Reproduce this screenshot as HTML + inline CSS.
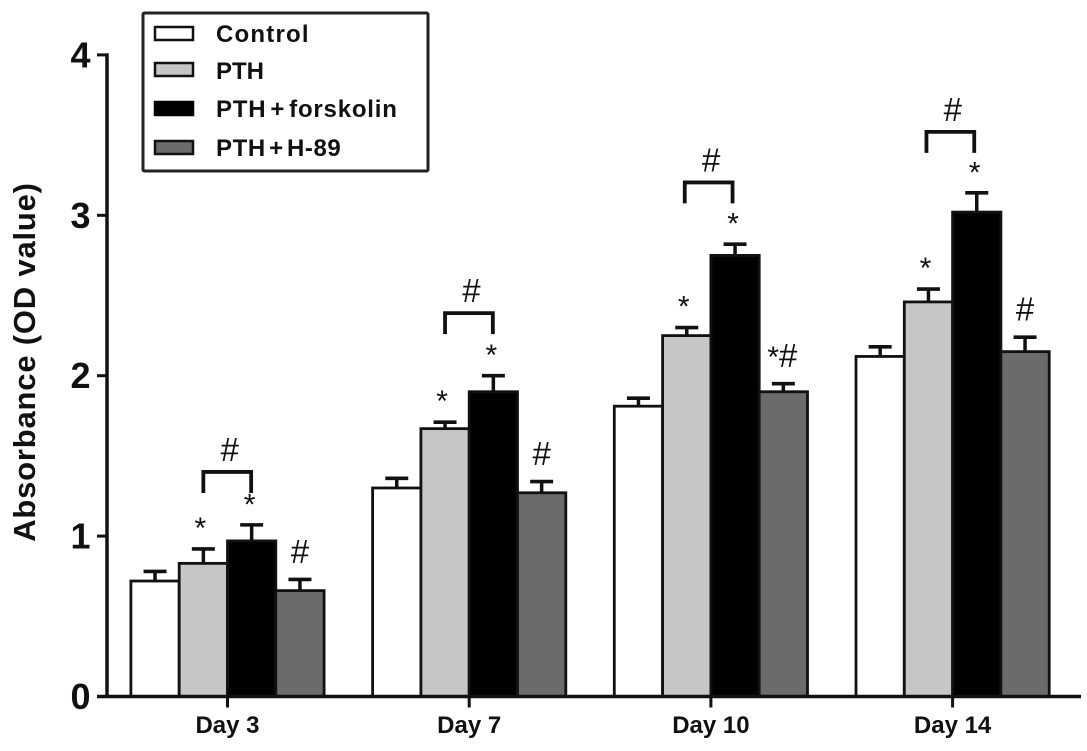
<!DOCTYPE html>
<html lang="en">
<head>
<meta charset="utf-8">
<title>Absorbance by day</title>
<style>
html,body{margin:0;padding:0;background:#fff;width:1087px;height:751px;overflow:hidden}
svg{display:block;font-family:"Liberation Sans",Arial,sans-serif}
</style>
</head>
<body>
<svg id="chart" width="1087" height="751" viewBox="0 0 1087 751" xmlns="http://www.w3.org/2000/svg">
  <g id="plot"></g>
  <g>
    <rect x="143" y="13" width="285" height="158" rx="1.5" fill="#fff" stroke="#222" stroke-width="3"/>
    <rect x="155" y="27" width="38" height="13" fill="#fff" stroke="#111" stroke-width="2.5"/>
    <text x="216" y="42" font-size="24" font-weight="700" letter-spacing="1.2" fill="#111">Control</text>
    <rect x="155" y="63" width="38" height="13" fill="#c6c6c6" stroke="#111" stroke-width="2.5"/>
    <text x="216" y="79" font-size="24" font-weight="700" fill="#111">PTH</text>
    <rect x="155" y="102" width="38" height="13" fill="#000" stroke="#000" stroke-width="2.5"/>
    <text x="216" y="117" font-size="24" font-weight="700" letter-spacing="0.8" word-spacing="-3.5" fill="#111">PTH + forskolin</text>
    <rect x="155" y="141" width="38" height="13" fill="#6b6b6b" stroke="#111" stroke-width="2.5"/>
    <text x="216" y="156" font-size="24" font-weight="700" letter-spacing="0.6" word-spacing="-4" fill="#111">PTH + H-89</text>
  </g>
  <text transform="translate(35,362) rotate(-90)" text-anchor="middle" font-size="31" font-weight="700" letter-spacing="0.8" fill="#111">Absorbance (OD value)</text>
</svg>
<script>
const categories = ["Day 3", "Day 7", "Day 10", "Day 14"];
const seriesNames = ["control", "pth", "forskolin", "h89"];
const control = [0.72, 1.30, 1.81, 2.12];
const pth = [0.83, 1.67, 2.25, 2.46];
const forskolin = [0.97, 1.90, 2.75, 3.02];
const h89 = [0.66, 1.27, 1.90, 2.15];
const controlErr = [0.06, 0.06, 0.05, 0.06];
const pthErr = [0.09, 0.04, 0.05, 0.08];
const forskolinErr = [0.10, 0.10, 0.07, 0.12];
const h89Err = [0.07, 0.07, 0.05, 0.09];
const yTicks = [0, 1, 2, 3, 4];
const bracketLevels = [1.40, 2.39, 3.205, 3.52];
const pthMarks = ["*", "*", "*", "*"];
const forskolinMarks = ["*", "*", "*", "*"];
const h89Marks = ["#", "#", "*#", "#"];

const NS = "http://www.w3.org/2000/svg";
const plot = document.getElementById("plot");
const values = [control, pth, forskolin, h89];
const errors = [controlErr, pthErr, forskolinErr, h89Err];
const fills = ["#ffffff", "#c6c6c6", "#000000", "#6b6b6b"];

const Y0 = 696.5, YUNIT = 160.4;
const GROUP0 = 227.5, GROUPSTEP = 241.7, BARW = 48.3;
const ASTERISK_SIZE = 30, HASH_SIZE = 33;
function yScale(v) { return Y0 - v * YUNIT; }
function groupX(i) { return GROUP0 + i * GROUPSTEP; }
function barLeft(i, s) { return groupX(i) + (s - 2) * BARW; }
function barMid(i, s) { return barLeft(i, s) + BARW / 2; }

function add(tag, attrs) {
  const el = document.createElementNS(NS, tag);
  for (const k in attrs) el.setAttribute(k, attrs[k]);
  plot.appendChild(el);
  return el;
}
function line(x1, y1, x2, y2, w, color) {
  return add("line", { x1: x1, y1: y1, x2: x2, y2: y2, stroke: color || "#111", "stroke-width": w });
}
function markText(str, x, y) {
  const el = add("text", { x: x, y: y, "text-anchor": "middle", fill: "#111" });
  str.split("").forEach(function (ch) {
    const span = document.createElementNS(NS, "tspan");
    span.setAttribute("font-size", ch === "#" ? HASH_SIZE : ASTERISK_SIZE);
    span.textContent = ch;
    el.appendChild(span);
  });
  return el;
}

categories.forEach(function (cat, i) {
  values.forEach(function (series, s) {
    const top = yScale(series[i]);
    const errTop = yScale(series[i] + errors[s][i]);
    const mid = barMid(i, s);
    const stem = line(mid, errTop, mid, top, 3.5);
    
    
    const cap = line(mid - 11.5, errTop, mid + 11.5, errTop, 3.6);
    
    
    const bar = add("rect", {
      x: barLeft(i, s), y: top, width: BARW, height: Y0 - top,
      fill: fills[s], stroke: "#111", "stroke-width": 2.8
    });
    
    
    bar.setAttribute('data-series', seriesNames[s]);
    bar.setAttribute('data-category', cat);
  });

  const shift = i >= 2 ? -2 : 0;
  const bx1 = barMid(i, 1) + shift, bx2 = barMid(i, 2) + shift - 0.5, by = yScale(bracketLevels[i]);
  const bracket = add("path", {
    d: "M" + bx1 + " " + (by + 21) + "V" + by + "H" + bx2 + "V" + (by + 21),
    fill: "none", stroke: "#111", "stroke-width": 3.8
  });
  
  

  const hash = markText("#", (bx1 + bx2) / 2 + 2.5, by - 11);
  
  

  const markP = markText(pthMarks[i], barMid(i, 1) - 3, yScale(pth[i] + pthErr[i]) - 11);
  
  

  const markF = markText(forskolinMarks[i], barMid(i, 2) - 2, yScale(forskolin[i] + forskolinErr[i]) - 10.5);
  
  

  const hx = barMid(i, 3) - (h89Marks[i].length > 1 ? 1 : 0);
  const markH = markText(h89Marks[i], hx, yScale(h89[i] + h89Err[i]) - 16.5);
  
  

  const tick = line(groupX(i), Y0, groupX(i), Y0 + 11, 3);
  
  
  const label = add("text", {
    x: groupX(i), y: 733, "text-anchor": "middle",
    "font-size": 24, "font-weight": 700, fill: "#111"
  });
  label.textContent = cat;
  
  
});

yTicks.forEach(function (t) {
  const y = yScale(t);
  const tick = line(97, y, 108, y, 3);
  
  
  const label = add("text", {
    x: 90.5, y: y + 12.5, "text-anchor": "end",
    "font-size": 36, "font-weight": 700, fill: "#111"
  });
  label.textContent = t;
  
  
});

const yAxis = line(107, yScale(yTicks[yTicks.length - 1]) - 1.5, 107, Y0 + 1.5, 3.5);


const xAxis = line(97, Y0, 1081, Y0, 3.5);


</script>
</body>
</html>
